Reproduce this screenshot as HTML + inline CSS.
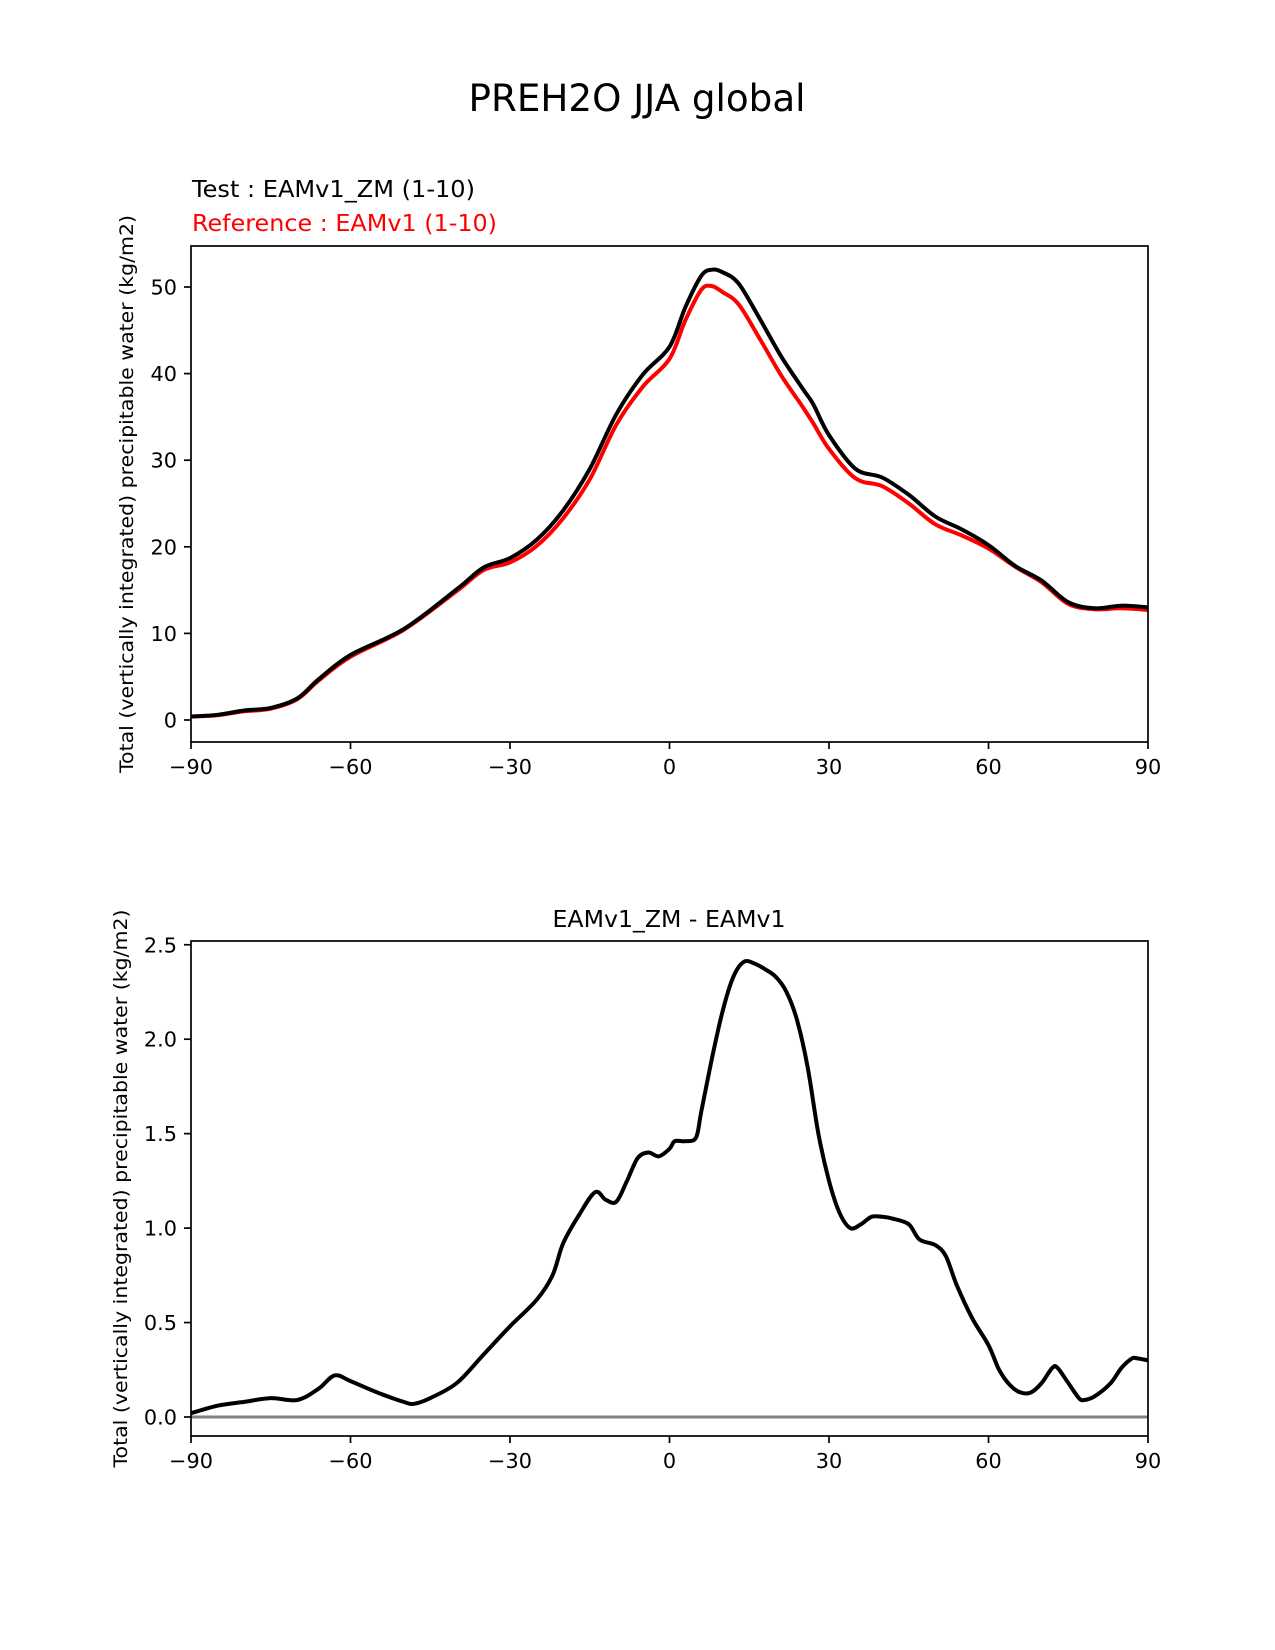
<!DOCTYPE html>
<html><head><meta charset="utf-8">
<style>
html,body{margin:0;padding:0;background:#fff;}
svg{display:block;font-family:"DejaVu Sans","Liberation Sans",sans-serif;}
</style></head>
<body>
<svg id="fig" width="1275" height="1650" viewBox="0 0 1275 1650" xmlns="http://www.w3.org/2000/svg">
<rect width="1275" height="1650" fill="#fff"/>
<text x="637" y="111" font-size="37.5" text-anchor="middle" textLength="337" lengthAdjust="spacingAndGlyphs">PREH2O JJA global</text>
<text x="192" y="197" font-size="23.5" textLength="283" lengthAdjust="spacingAndGlyphs">Test : EAMv1_ZM (1-10)</text>
<text x="192" y="231" font-size="23.5" fill="#ff0000" textLength="305" lengthAdjust="spacingAndGlyphs">Reference : EAMv1 (1-10)</text>
<text x="669" y="927" font-size="23.5" text-anchor="middle" textLength="233" lengthAdjust="spacingAndGlyphs">EAMv1_ZM - EAMv1</text>
<g id="top"></g>
<g id="bot"></g>
</svg>
<script>
const xTicks = [-90,-60,-30,0,30,60,90];
const xTickLabels = ["\u221290","\u221260","\u221230","0","30","60","90"];
const topYTicks = [0,10,20,30,40,50];
const botYTicks = [0.0,0.5,1.0,1.5,2.0,2.5];
const botYTickLabels = ["0.0","0.5","1.0","1.5","2.0","2.5"];
const lat = [-90,-85,-80,-75,-70,-66,-60,-50,-40,-35,-30,-25,-20,-15,-10,-5,0,3,6,8,10,13,17,21,25,27,30,35,40,45,50,55,60,65,70,75,80,85,90];
const testVals = [0.4,0.6,1.1,1.4,2.5,4.7,7.5,10.5,15.1,17.6,18.7,20.8,24.2,29.0,35.3,39.9,43.1,47.7,51.3,52.0,51.7,50.4,46.3,42.0,38.3,36.5,32.9,29.0,28.0,26.0,23.5,22.0,20.2,17.8,16.1,13.6,12.9,13.2,13.0];
const refVals = [0.4,0.55,1.0,1.3,2.4,4.55,7.3,10.4,14.9,17.3,18.2,20.1,23.3,27.8,34.1,38.5,41.7,46.2,49.7,50.1,49.4,48.0,44.0,39.8,36.2,34.3,31.3,27.9,27.0,25.0,22.6,21.3,19.8,17.7,15.9,13.4,12.8,12.9,12.7];
const diffLat = [-90,-85,-80,-75,-70,-66,-63,-60,-55,-50,-48,-45,-40,-35,-30,-25,-22,-20,-17,-14,-12,-10,-8,-6,-4,-2,0,1,3,5,6,8,10,12,14,16,18,20,22,24,26,28,30,32,34,36,38,40,42,45,47,50,52,54,57,60,62,64,66,68,70,72,73,75,77,78,80,83,85,87,88,90];
const diffVals = [0.02,0.06,0.08,0.1,0.09,0.15,0.22,0.19,0.13,0.08,0.07,0.1,0.18,0.33,0.48,0.62,0.75,0.92,1.07,1.19,1.15,1.14,1.25,1.37,1.4,1.38,1.42,1.46,1.46,1.48,1.62,1.9,2.15,2.33,2.41,2.4,2.37,2.33,2.25,2.1,1.85,1.5,1.25,1.08,1.0,1.02,1.06,1.06,1.05,1.02,0.94,0.91,0.85,0.7,0.52,0.38,0.25,0.17,0.13,0.13,0.18,0.26,0.26,0.18,0.1,0.09,0.11,0.18,0.26,0.31,0.31,0.3];

const NS="http://www.w3.org/2000/svg";
const L=191, R=1148;
function xs(v){return L+(v+90)/180*(R-L);}
function mk(parent,tag,attrs){const e=document.createElementNS(NS,tag);for(const k in attrs)e.setAttribute(k,attrs[k]);parent.appendChild(e);return e;}
function smooth(px){let d="M"+px[0][0].toFixed(1)+","+px[0][1].toFixed(1);
 for(let i=0;i<px.length-1;i++){const p0=px[Math.max(0,i-1)],p1=px[i],p2=px[i+1],p3=px[Math.min(px.length-1,i+2)];
  const c1=[p1[0]+(p2[0]-p0[0])/6,p1[1]+(p2[1]-p0[1])/6],c2=[p2[0]-(p3[0]-p1[0])/6,p2[1]-(p3[1]-p1[1])/6];
  d+=" C"+c1[0].toFixed(1)+","+c1[1].toFixed(1)+" "+c2[0].toFixed(1)+","+c2[1].toFixed(1)+" "+p2[0].toFixed(1)+","+p2[1].toFixed(1);}
 return d;}
function axes(g,T,B,ys,yTicks,yLabels,tickBase,ylX){
 const frame=mk(g,"rect",{x:L,y:T,width:R-L,height:B-T,fill:"none",stroke:"#000","stroke-width":1.7});
 
 
 xTicks.forEach((t,i)=>{const x=xs(t);
  const tk=mk(g,"line",{x1:x,x2:x,y1:B,y2:B+7,stroke:"#000","stroke-width":1.7});
  
  
  const tl=mk(g,"text",{x:x,y:tickBase,"font-size":20.8,"text-anchor":"middle"});tl.textContent=xTickLabels[i];
  
  });
 yTicks.forEach((t,i)=>{const y=ys(t);
  const tk=mk(g,"line",{x1:L-7,x2:L,y1:y,y2:y,stroke:"#000","stroke-width":1.7});
  
  
  const tl=mk(g,"text",{x:L-14,y:y+7.5,"font-size":20.8,"text-anchor":"end"});tl.textContent=yLabels[i];
  
  });
 const cy=(T+B)/2;
 const yl=mk(g,"text",{x:0,y:0,"font-size":19,"text-anchor":"middle",textLength:558,lengthAdjust:"spacingAndGlyphs",transform:"translate("+ylX+","+cy+") rotate(-90)"});
 yl.textContent="Total (vertically integrated) precipitable water (kg/m2)";
 
 
}
// top chart
const gt=document.getElementById("top");
const T1=246,B1=742; const yt=v=>720-v*8.66;
const clipT=mk(gt,"clipPath",{id:"c1"});mk(clipT,"rect",{x:L,y:T1,width:R-L,height:B1-T1});
const refLine=mk(gt,"path",{d:smooth(lat.map((a,i)=>[xs(a),yt(refVals[i])])),fill:"none",stroke:"#ff0000","stroke-width":4,"stroke-linejoin":"round","clip-path":"url(#c1)"});


const testLine=mk(gt,"path",{d:smooth(lat.map((a,i)=>[xs(a),yt(testVals[i])])),fill:"none",stroke:"#000","stroke-width":4,"stroke-linejoin":"round","clip-path":"url(#c1)"});


axes(gt,T1,B1,yt,topYTicks,topYTicks.map(String),774,133);
// bottom chart
const gb=document.getElementById("bot");
const T2=941,B2=1436; const yb=v=>1417-v*188.9;
const zl=mk(gb,"line",{x1:L,x2:R,y1:yb(0),y2:yb(0),stroke:"#808080","stroke-width":3});


const dl=mk(gb,"path",{d:smooth(diffLat.map((a,i)=>[xs(a),yb(diffVals[i])])),fill:"none",stroke:"#000","stroke-width":4,"stroke-linejoin":"round"});


axes(gb,T2,B2,yb,botYTicks,botYTickLabels,1468,127);
</script>
</body></html>
